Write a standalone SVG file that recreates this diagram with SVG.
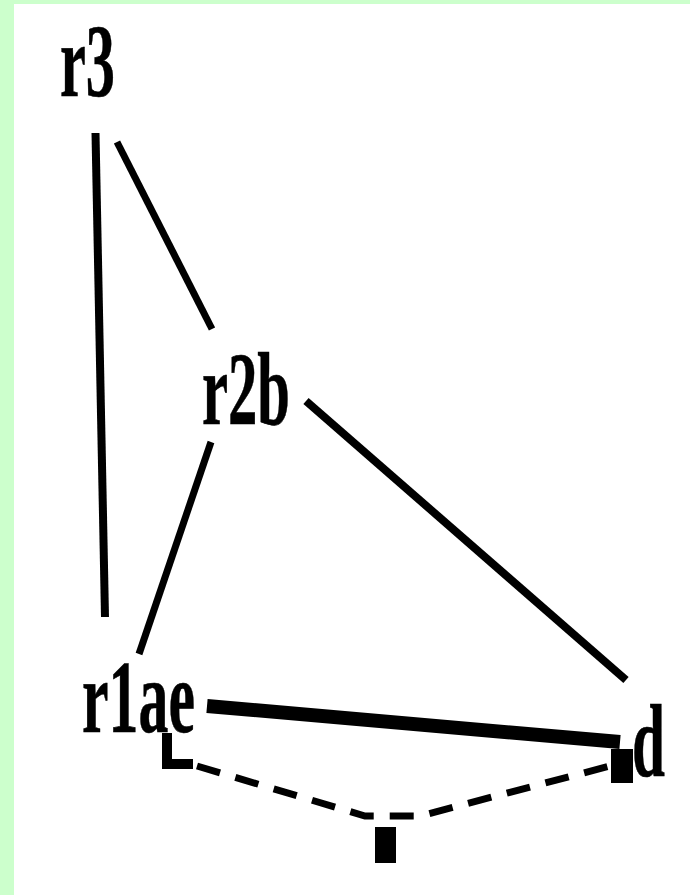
<svg xmlns="http://www.w3.org/2000/svg" width="690" height="895" viewBox="0 0 690 895">
  <style>
    .lbl { font-family: "Liberation Serif", "Times New Roman", serif; font-weight: bold; font-size: 104px; fill: #000; stroke: #000; stroke-width: 0.6; }
    .edge { stroke: #000; fill: none; stroke-linecap: butt; }
    .dash { stroke: #000; fill: none; stroke-width: 7; stroke-dasharray: 24 16; }
  </style>
  <rect x="0" y="0" width="690" height="895" fill="#ffffff"/>
  <rect x="0" y="0" width="14" height="895" fill="#ccffcc"/>
  <rect x="0" y="0" width="690" height="4" fill="#ccffcc"/>

  <g id="connectors">
    <line class="edge" x1="95.5" y1="133" x2="105" y2="617" stroke-width="8"/>
    <line class="edge" x1="117" y1="142" x2="212" y2="329" stroke-width="7"/>
    <line class="edge" x1="211" y1="442" x2="139" y2="654" stroke-width="7"/>
    <line class="edge" x1="306" y1="401" x2="626" y2="680" stroke-width="8"/>
    <line class="edge" x1="207" y1="706" x2="620" y2="742" stroke-width="14"/>
    <path class="edge" d="M167,733 V764 H193" stroke-width="10"/>
    <path class="dash" d="M197,766 L365,816 L420,816 L610,766"/>
    <rect x="611" y="749" width="22" height="34" fill="#000"/>
    <rect x="375" y="827" width="21" height="36" fill="#000"/>
  </g>

  <g id="node-r3">
    <text class="lbl" x="60" y="96" textLength="55" lengthAdjust="spacingAndGlyphs">r3</text>
  </g>
  <g id="node-r2b">
    <text class="lbl" x="202" y="424" textLength="88" lengthAdjust="spacingAndGlyphs">r2b</text>
  </g>
  <g id="node-r1ae">
    <text class="lbl" x="82" y="732" textLength="113" lengthAdjust="spacingAndGlyphs">r1ae</text>
  </g>
  <g id="node-d">
    <text class="lbl" x="632" y="776" textLength="33" lengthAdjust="spacingAndGlyphs">d</text>
  </g>
</svg>
